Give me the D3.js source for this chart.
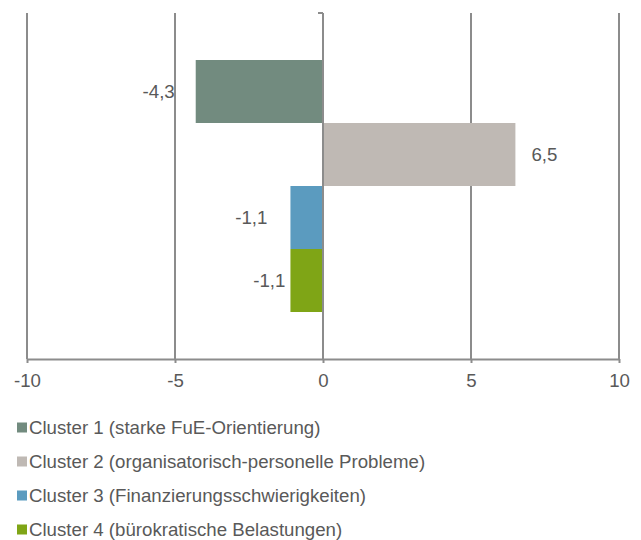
<!DOCTYPE html>
<html>
<head>
<meta charset="utf-8">
<script src="https://cdn.jsdelivr.net/npm/d3@7"></script>
<style>
  html, body { margin: 0; padding: 0; background: #ffffff; }
  svg { display: block; font-family: "Liberation Sans", Arial, sans-serif; }
</style>
</head>
<body>
<svg id="chart" width="641" height="540"></svg>
<script>
// ---- data ----
const seriesNames = [
  "Cluster 1 (starke FuE-Orientierung)",
  "Cluster 2 (organisatorisch-personelle Probleme)",
  "Cluster 3 (Finanzierungsschwierigkeiten)",
  "Cluster 4 (bürokratische Belastungen)"
];
const seriesValues = [-4.3, 6.5, -1.1, -1.1];
const valueLabels = ["-4,3", "6,5", "-1,1", "-1,1"];
const xTicks = [-10, -5, 0, 5, 10];
const xTickLabels = ["-10", "-5", "0", "5", "10"];
const xDomain = [-10, 10];

// ---- styles ----
const colors = ["#728b7f", "#bfb9b4", "#5b9bbf", "#7fa516"];
const labelGap = [21, 16, 23, 5];   // distance between bar end and its value label
const textColor = "#595959";
const gridColor = "#8c8c8c";
const fontSize = "18.67px";

const svg = d3.select("#chart");
const plot = { left: 27, right: 619, top: 13, bottom: 359 };

const x = d3.scaleLinear().domain(xDomain).range([plot.left, plot.right]);
const y = d3.scaleBand().domain(d3.range(seriesNames.length)).range([60, 312]).padding(0);

// vertical gridlines (all except 0 which is the category axis)
svg.append("g").selectAll("line")
  .data(xTicks.filter(t => t !== 0))
  .join("line")
  .attr("x1", d => x(d)).attr("x2", d => x(d))
  .attr("y1", plot.top).attr("y2", plot.bottom)
  .attr("stroke", gridColor).attr("stroke-width", 2);

// bars
svg.append("g").selectAll("rect")
  .data(seriesValues)
  .join("rect")
  .attr("x", d => Math.min(x(0), x(d)))
  .attr("width", d => Math.abs(x(d) - x(0)))
  .attr("y", (d, i) => y(i))
  .attr("height", y.bandwidth())
  .attr("fill", (d, i) => colors[i]);

// category axis line (x=0) with a small tick at top
const zeroG = svg.append("g");
zeroG.append("line")
  .attr("x1", x(0)).attr("x2", x(0))
  .attr("y1", plot.top).attr("y2", plot.bottom)
  .attr("stroke", gridColor).attr("stroke-width", 2);
zeroG.append("line")
  .attr("x1", x(0) - 5).attr("x2", x(0))
  .attr("y1", plot.top).attr("y2", plot.top)
  .attr("stroke", gridColor).attr("stroke-width", 2);

// x axis
const xAxis = d3.axisBottom(x)
  .tickValues(xTicks)
  .tickFormat((d, i) => xTickLabels[i])
  .tickSize(4)
  .tickPadding(11)
  .tickSizeOuter(0);
const axG = svg.append("g")
  .attr("transform", `translate(0,${plot.bottom})`)
  .call(xAxis);
axG.select(".domain").attr("stroke", gridColor).attr("stroke-width", 2);
axG.selectAll(".tick line").attr("stroke", gridColor).attr("stroke-width", 2);
axG.selectAll(".tick text")
  .attr("fill", textColor)
  .style("font-size", fontSize)
  .style("font-family", "'Liberation Sans', Arial, sans-serif");

// value labels
svg.append("g").selectAll("text")
  .data(seriesValues)
  .join("text")
  .attr("x", (d, i) => d < 0 ? x(d) - labelGap[i] : x(d) + labelGap[i])
  .attr("y", (d, i) => y(i) + y.bandwidth() / 2)
  .attr("dy", "0.35em")
  .attr("text-anchor", d => d < 0 ? "end" : "start")
  .attr("fill", textColor)
  .style("font-size", fontSize)
  .text((d, i) => valueLabels[i]);

// legend
const legend = svg.append("g").attr("transform", "translate(17,427.5)");
const items = legend.selectAll("g")
  .data(seriesNames)
  .join("g")
  .attr("transform", (d, i) => `translate(0,${i * 34})`);
items.append("rect")
  .attr("x", 0).attr("y", -5)
  .attr("width", 10).attr("height", 10)
  .attr("fill", (d, i) => colors[i]);
items.append("text")
  .attr("x", 12).attr("y", 0)
  .attr("dy", "0.35em")
  .attr("fill", textColor)
  .style("font-size", fontSize)
  .text(d => d);
</script>
</body>
</html>
